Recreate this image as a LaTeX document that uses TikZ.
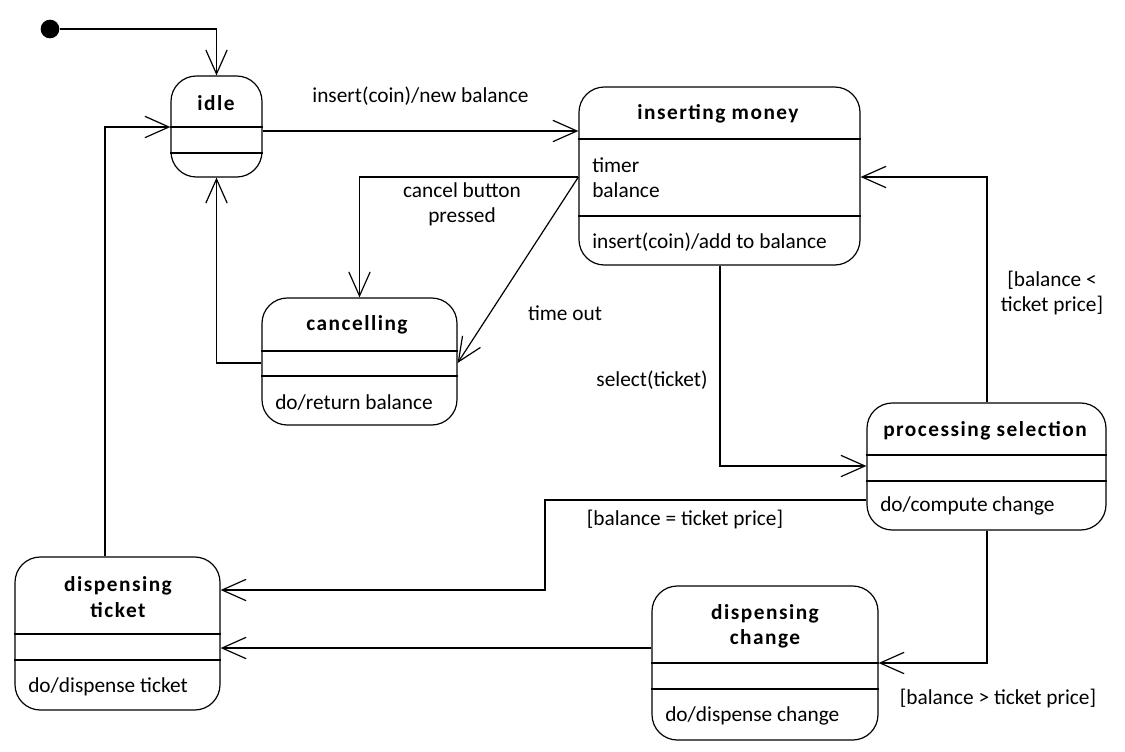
\documentclass[tikz,border=0pt]{standalone}
\usepackage{fontspec}
\setmainfont{Carlito}[BoldFeatures={LetterSpace=7}]
\usetikzlibrary{arrows.meta, fit}
\tikzset{
  stbox/.style ={draw, line width=0.9pt, rounded corners=19pt, inner sep=0pt},
  part/.style  ={line width=0.9pt},
  title/.style ={font=\bfseries, align=center},
  txt/.style   ={anchor=west, align=left, inner sep=0pt},
  lbl/.style   ={align=center, inner sep=1pt},
  start/.style ={circle, fill=black, minimum size=14pt, inner sep=0pt},
  trans/.style ={-{Straight Barb[length=18pt, width=16pt]}, line width=0.9pt},
}

\begin{document}
\fontsize{16}{19}\selectfont
\begin{tikzpicture}[x=0.75pt, y=-0.75pt]
  \useasboundingbox (0,0) rectangle (1125,751);

  % states
  \node[stbox, fit={(171,76) (262,177)}]   (idle)   {};
  \node[stbox, fit={(579,87) (860,265)}]   (money)  {};
  \node[stbox, fit={(262,298) (457,425)}]  (cancel) {};
  \node[stbox, fit={(867,403) (1106,530)}] (proc)   {};
  \node[stbox, fit={(15,557) (220,710)}]   (ticket) {};
  \node[stbox, fit={(652,586) (878,740)}]  (change) {};

  % compartments
  \draw[part] (idle.west |- 0,127)   -- (idle.east |- 0,127);
  \draw[part] (idle.west |- 0,153)   -- (idle.east |- 0,153);
  \draw[part] (money.west |- 0,139)  -- (money.east |- 0,139);
  \draw[part] (money.west |- 0,216)  -- (money.east |- 0,216);
  \draw[part] (cancel.west |- 0,351) -- (cancel.east |- 0,351);
  \draw[part] (cancel.west |- 0,376) -- (cancel.east |- 0,376);
  \draw[part] (proc.west |- 0,455)   -- (proc.east |- 0,455);
  \draw[part] (proc.west |- 0,481)   -- (proc.east |- 0,481);
  \draw[part] (ticket.west |- 0,634) -- (ticket.east |- 0,634);
  \draw[part] (ticket.west |- 0,660) -- (ticket.east |- 0,660);
  \draw[part] (change.west |- 0,663) -- (change.east |- 0,663);
  \draw[part] (change.west |- 0,689) -- (change.east |- 0,689);

  % texts in the states
  \node[title] (idleT)   at (216,103) {idle};
  \node[title] (moneyT)  at (718,114) {inserting money};
  \node[txt]   (moneyA)  at (592,177.5) {timer\\balance};
  \node[txt]   (moneyI)  at (592,242) {insert(coin)/add to balance};
  \node[title] (cancelT) at (357,325) {cancelling};
  \node[txt]   (cancelD) at (275,403) {do/return balance};
  \node[title] (procT)   at (985,431) {processing selection};
  \node[txt]   (procD)   at (880,506) {do/compute change};
  \node[title] (ticketT) at (118,597) {dispensing\\ticket};
  \node[txt]   (ticketD) at (28,687)  {do/dispense ticket};
  \node[title] (changeT) at (765,626) {dispensing\\change};
  \node[txt]   (changeD) at (665,716) {do/dispense change};

  % initial state
  \node[start] (init) at (50,29) {};
  \coordinate (bend) at (545,545);

  % transitions
  \draw[trans] (init) -| (idle);
  \draw[trans] (idle.east |- 0,131) -- node[lbl, above=18pt]{insert(coin)/new balance} (money.west |- 0,131);
  \draw[trans] (money.west |- 0,177) -| (cancel.north);
  \draw[trans] (money.west |- 0,177) -- (cancel.east |- 0,363);
  \draw[trans] (cancel.west |- 0,363) -| (idle.south);
  \draw[trans] (money.south -| 720,0) |- (proc.west |- 0,466);
  \draw[trans] (proc.north -| 987,0) |- (money.east |- 0,177);
  \draw[trans] (proc.west |- 0,500) -| (bend) |- (ticket.east |- 0,590);
  \draw[trans] (proc.south -| 987,0) |- (change.east |- 0,663);
  \draw[trans] (change.west |- 0,648) -- (ticket.east |- 0,648);
  \draw[trans] (ticket.north -| 105,0) |- (idle.west |- 0,127);

  % guards and events
  \node[lbl] (lCancel) at (462,204)  {cancel button\\pressed};
  \node[lbl] (lTime)   at (565,313)  {time out};
  \node[lbl] (lSelect) at (652,380)  {select(ticket)};
  \node[lbl] (lLess)   at (1052,293) {[balance <\\ticket price]};
  \node[lbl] (lEqual)  at (685,520)  {[balance = ticket price]};
  \node[lbl] (lMore)   at (998,698)  {[balance > ticket price]};
\end{tikzpicture}
\end{document}
